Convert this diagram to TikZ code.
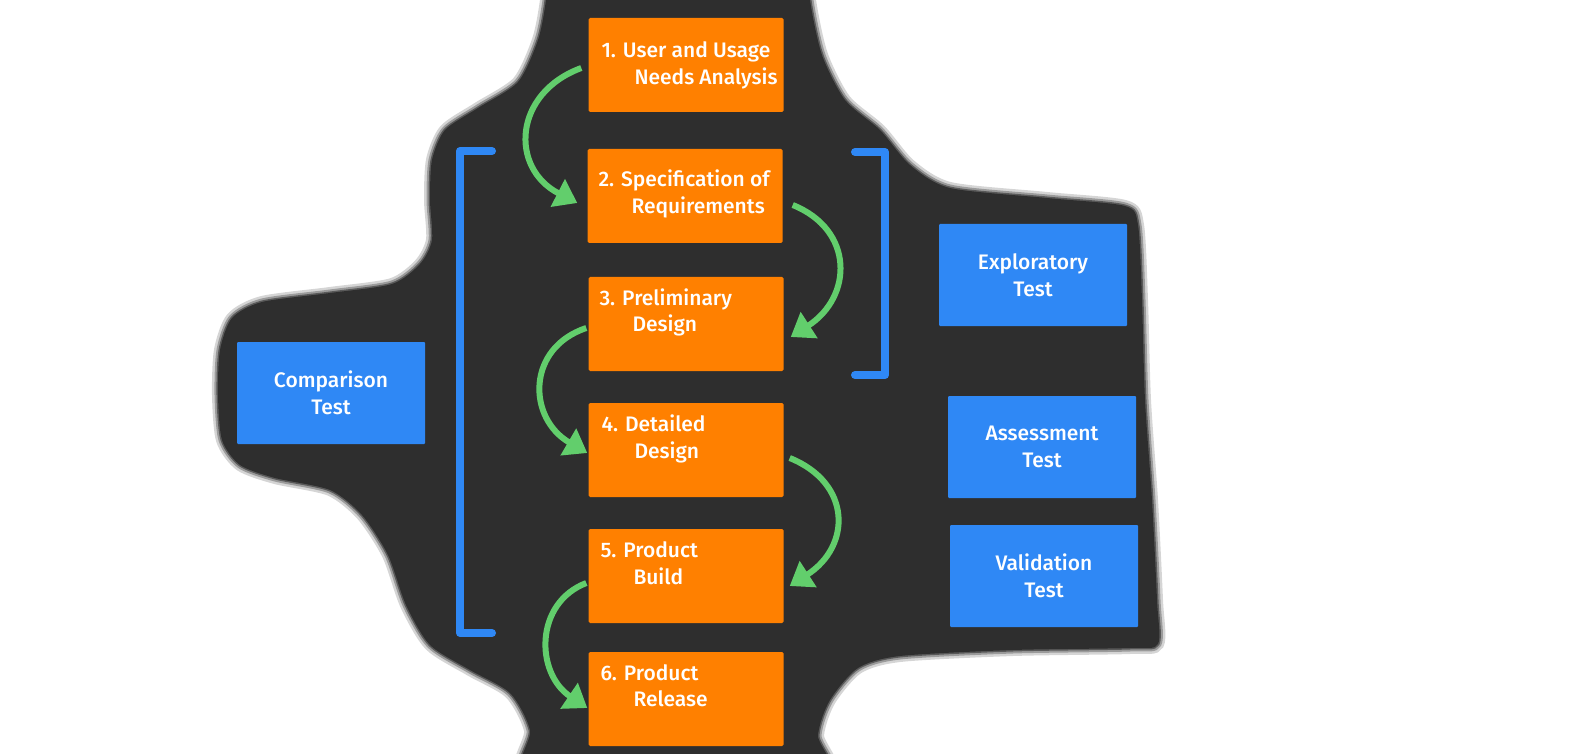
\documentclass[tikz,border=0pt]{standalone}
\usepackage{fontspec}
\setmainfont{Fira Sans}[BoldFont={Fira Sans Medium}]
\usepackage{tikz}
\usetikzlibrary{arrows.meta,calc}

\definecolor{stageorange}{RGB}{255,128,0}
\definecolor{testblue}{RGB}{47,136,245}
\definecolor{flowgreen}{RGB}{98,206,108}
\definecolor{board}{RGB}{46,46,46}

% outline of the chalkboard patch
\def\boardpath{plot[smooth cycle, tension=.45] coordinates {
  (552,-60) (546,0) (538,40) (518,82) (478,108) (445,130) (432,160)
  (430,200) (432,240) (420,264) (392,284) (330,293) (262,302) (232,318)
  (220,350) (218,395) (222,440) (240,465) (275,478) (330,490) (362,515)
  (388,555) (406,605) (430,645) (470,670) (510,693) (530,730) (535,790)
  (820,790) (818,735) (830,700) (858,668) (900,656) (1013,650) (1130,648)
  (1158,644) (1157,600) (1152,500) (1145,400) (1142,300) (1138,225)
  (1125,206) (1047,198) (950,188) (910,165) (880,130) (845,100) (822,55)
  (810,0) (805,-60)}}

\begin{document}
\begin{tikzpicture}[x=1pt,y=-1pt]
\tikzset{stage/.style = {rectangle, fill=stageorange, rounded corners=1.5pt,
    minimum width=195pt, minimum height=94pt}}
\tikzset{stagetext/.style = {anchor=base west, align=left, inner sep=0pt,
    text=white, font=\fontsize{21}{26.5}\selectfont\bfseries}}
\tikzset{testbox/.style = {rectangle, fill=testblue, rounded corners=1pt,
    minimum width=188pt, minimum height=102pt, align=center, text=white,
    font=\fontsize{21}{26.5}\selectfont\bfseries}}
\tikzset{flow/.style = {flowgreen, line width=6pt,
    -{Triangle[length=22pt, width=30pt]}}}
\tikzset{bracket/.style = {testblue, line width=8pt, line cap=round, line join=round}}
\useasboundingbox (0,0) rectangle (1575,754);
\clip (0,0) rectangle (1575,754);
% board
\draw[board, line width=12pt, opacity=.2] \boardpath;
\draw[board, line width=7pt, opacity=.35] \boardpath;
\draw[board, line width=3pt, opacity=.6] \boardpath;
\fill[board] \boardpath;
% stages
\node[stage] (s1) at (686,65) {};
\node[stage] (s2) at (685,196) {};
\node[stage] (s3) at (686,324) {};
\node[stage] (s4) at (686,450) {};
\node[stage] (s5) at (686,576) {};
\node[stage] (s6) at (686,699) {};
\node[stagetext] (t1) at ($(s1.north west)+(13,66.5)$) {1. User and Usage\\\hspace*{33pt}Needs Analysis};
\node[stagetext] (t2) at ($(s2.north west)+(11,64.5)$) {2. Specification of\\\hspace*{33pt}Requirements};
\node[stagetext] (t3) at ($(s3.north west)+(11,55)$) {3. Preliminary\\\hspace*{33pt}Design};
\node[stagetext] (t4) at ($(s4.north west)+(13,55.5)$) {4. Detailed\\\hspace*{33pt}Design};
\node[stagetext] (t5) at ($(s5.north west)+(12,55.5)$) {5. Product\\\hspace*{33pt}Build};
\node[stagetext] (t6) at ($(s6.north west)+(12,55)$) {6. Product\\\hspace*{33pt}Release};
% tests
\node[testbox] (cmp) at (331,393) {Comparison\\Test};
\node[testbox] (exp) at (1033,275) {Exploratory\\Test};
\node[testbox] (ass) at (1042,447) {Assessment\\Test};
\node[testbox] (val) at (1044,576) {Validation\\Test};
% brackets
\draw[bracket] (492,151) -- (460,151) -- (460,633) -- (492,633);
\draw[bracket] (855,152) -- (885,152) -- (885,375) -- (855,375);
% flow arrows
\draw[flow] ($(s1.west)+(-7,3)$) .. controls +(-68,25) and +(-68,-35) .. ($(s2.west)+(-10,7)$);
\draw[flow] ($(s2.east)+(10,9)$) .. controls +(62,25) and +(62,-40) .. ($(s3.east)+(7,13)$);
\draw[flow] ($(s3.west)+(-2,4)$) .. controls +(-60,20) and +(-60,-35) .. ($(s4.west)+(-1,3)$);
\draw[flow] ($(s4.east)+(6,8)$) .. controls +(62,25) and +(62,-40) .. ($(s5.east)+(6,10)$);
\draw[flow] ($(s5.west)+(-2,7)$) .. controls +(-52,20) and +(-52,-35) .. ($(s6.west)+(-1,9)$);
\end{tikzpicture}
\end{document}
